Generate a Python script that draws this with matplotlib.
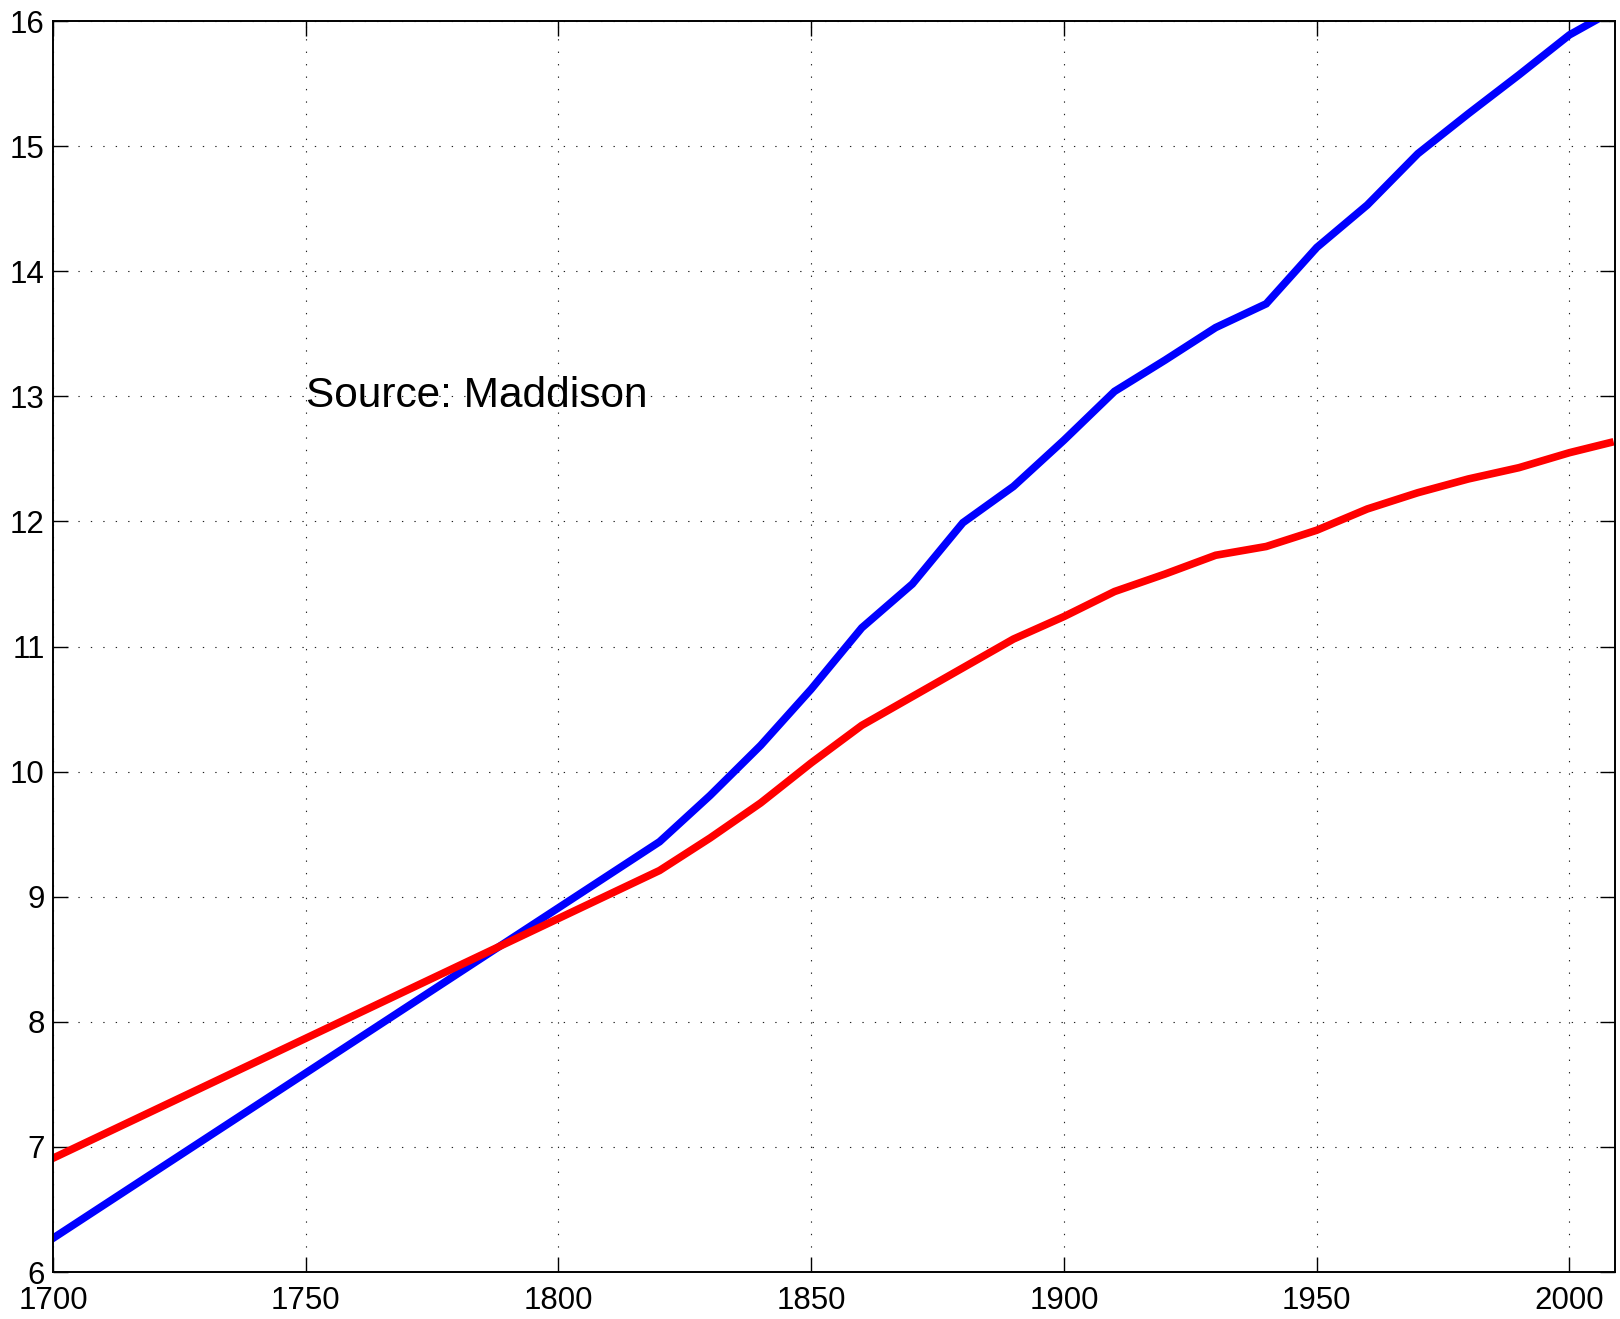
import numpy as np
import matplotlib.pyplot as plt

# Maddison series for the United States, natural logs
years = [1700, 1820, 1830, 1840, 1850, 1860, 1870, 1880, 1890, 1900,
         1910, 1920, 1930, 1940, 1950, 1960, 1970, 1980, 1990, 2000, 2008]
log_gdp = [6.27, 9.44, 9.81, 10.21, 10.66, 11.15, 11.50, 11.99, 12.28, 12.65,
           13.04, 13.29, 13.55, 13.74, 14.19, 14.53, 14.94, 15.26, 15.57, 15.89, 16.07]
log_pop = [6.91, 9.21, 9.47, 9.75, 10.07, 10.37, 10.60, 10.83, 11.06, 11.24,
           11.44, 11.58, 11.73, 11.80, 11.93, 12.10, 12.23, 12.34, 12.43, 12.55, 12.63]

xticks = [1700, 1750, 1800, 1850, 1900, 1950, 2000]
yticks = list(range(6, 17))

plt.rcParams['font.family'] = ['Liberation Sans', 'DejaVu Sans']

fig = plt.figure(figsize=(16.2, 13.19), dpi=100)
ax = fig.add_axes([0.0327, 0.0356, 0.9642, 0.9484])

ax.plot(years, log_gdp, color=(0, 0, 1), lw=5.5, solid_joinstyle='miter')
ax.plot(years, log_pop, color=(1, 0, 0), lw=5.5, solid_joinstyle='miter')

ax.text(1750, 13, 'Source: Maddison', fontsize=30.5, va='center', ha='left')

ax.set_xlim(1700, 2009)
ax.set_ylim(6, 16)
ax.set_xticks(xticks)
ax.set_yticks(yticks)
ax.grid(True, color='#222222', linestyle=(0, (1.2, 10)), lw=0.8)

ax.tick_params(direction='in', length=10.8, width=1.0, labelsize=22.5,
               top=True, right=True)
ax.tick_params(axis='x', pad=10)
ax.tick_params(axis='y', pad=6)
for s in ax.spines.values():
    s.set_linewidth(1.4)

fig.savefig('out.png', dpi=100)
